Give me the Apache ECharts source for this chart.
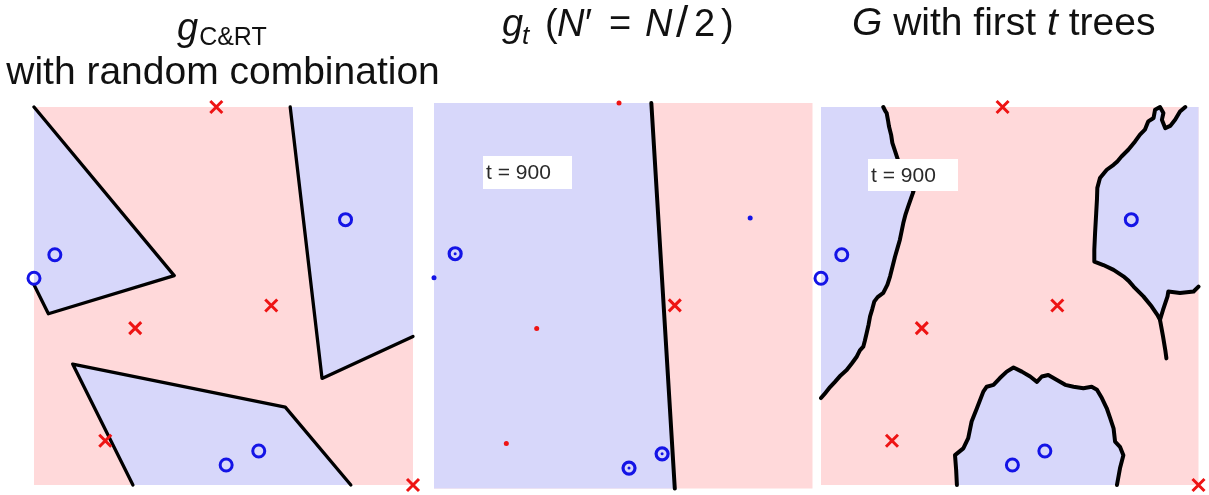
<!DOCTYPE html>
<html>
<head>
<meta charset="utf-8">
<script src="https://cdn.jsdelivr.net/npm/echarts@6/dist/echarts.min.js"></script>
<style>
  html, body { margin: 0; padding: 0; background: #ffffff; }
  #chart { width: 1209px; height: 495px; }
</style>
</head>
<body>
<div id="chart"></div>
<script>
// ---- training points, unit-square coordinates (shared by all three panels) ----
const crossPts  = [[0.481, 1.000], [0.267, 0.415], [0.626, 0.475], [0.188, 0.117], [1.000, 0.000]]; // class +1
const circlePts = [[0.000, 0.547], [0.055, 0.609], [0.822, 0.702], [0.507, 0.053], [0.593, 0.090]]; // class -1

// how each point is drawn in the single bootstrapped tree (middle panel)
const crossKindTree  = ['dot', 'dot', 'cross', 'dot', 'none'];
const circleKindTree = ['dot', 'ring', 'dot', 'ring', 'ring'];

// ---- left panel: C&RT combination, three blue regions bounded by straight cuts ----
const cartRegionA = [[0.000, 1.000], [0.370, 0.554], [0.038, 0.453], [0.000, 0.530]];
const cartRegionB = [[0.676, 1.000], [0.760, 0.282], [1.000, 0.393]];
const cartRegionC = [[0.261, 0.000], [0.102, 0.320], [0.663, 0.206], [0.836, 0.000]];

// ---- middle panel: one tree, one cut ----
const treeCut = [[0.565, 1.000], [0.626, 0.000]];

// ---- right panel: forest of the first t trees ----
const forestLeft = [
  [0.165, 1.000], [0.170, 0.990], [0.174, 0.984], [0.178, 0.962], [0.180, 0.949], [0.186, 0.925],
  [0.189, 0.905], [0.196, 0.884], [0.201, 0.869], [0.214, 0.830], [0.231, 0.794], [0.245, 0.777],
  [0.238, 0.757], [0.231, 0.737], [0.224, 0.716], [0.218, 0.693], [0.209, 0.649], [0.203, 0.628],
  [0.196, 0.604], [0.190, 0.580], [0.183, 0.552], [0.176, 0.530], [0.165, 0.508], [0.150, 0.497],
  [0.141, 0.485], [0.136, 0.466], [0.130, 0.446], [0.126, 0.424], [0.121, 0.402], [0.116, 0.381],
  [0.112, 0.366], [0.103, 0.356], [0.095, 0.340], [0.082, 0.322], [0.068, 0.304], [0.052, 0.290],
  [0.037, 0.273], [0.024, 0.259], [0.011, 0.243], [0.000, 0.230]
];
const forestRight = [
  [0.965, 1.000], [0.951, 0.988], [0.938, 0.966], [0.925, 0.950], [0.912, 0.944], [0.903, 0.966],
  [0.907, 0.984], [0.898, 1.000], [0.885, 0.993], [0.881, 0.971], [0.867, 0.962], [0.858, 0.940],
  [0.845, 0.927], [0.832, 0.909], [0.814, 0.887], [0.796, 0.869], [0.785, 0.856], [0.775, 0.847],
  [0.757, 0.834], [0.739, 0.812], [0.732, 0.786], [0.731, 0.755], [0.729, 0.719], [0.726, 0.666],
  [0.724, 0.622], [0.724, 0.591], [0.748, 0.582], [0.775, 0.569], [0.801, 0.552], [0.815, 0.540],
  [0.828, 0.525], [0.854, 0.499], [0.876, 0.472], [0.891, 0.450], [0.898, 0.437], [0.906, 0.463],
  [0.918, 0.499], [0.920, 0.512], [0.951, 0.508], [0.987, 0.512], [1.000, 0.525]
];
const forestSpur = [[0.898, 0.437], [0.906, 0.393], [0.912, 0.357], [0.915, 0.335]];
const forestBottom = [
  [0.360, 0.000], [0.358, 0.040], [0.355, 0.079], [0.377, 0.097], [0.390, 0.124], [0.399, 0.168],
  [0.413, 0.203], [0.430, 0.247], [0.439, 0.260], [0.457, 0.265], [0.474, 0.283], [0.492, 0.300],
  [0.510, 0.311], [0.532, 0.300], [0.554, 0.287], [0.572, 0.273], [0.585, 0.287], [0.602, 0.291],
  [0.625, 0.278], [0.647, 0.265], [0.669, 0.260], [0.695, 0.256], [0.717, 0.260], [0.731, 0.252],
  [0.744, 0.230], [0.757, 0.203], [0.766, 0.177], [0.775, 0.150], [0.779, 0.115], [0.792, 0.101],
  [0.801, 0.079], [0.792, 0.044], [0.784, 0.000]
];

const iterationLabel = 't = 900';

// ---- styles ----
const PINK = '#FFD9DA';
const LAVENDER = '#D7D7FA';
const RED = '#EE1414';
const BLUE = '#1414E6';
const FONT = '"Liberation Sans", Arial, Helvetica, sans-serif';
const CROSS = 'path://M0,0L10,10M10,0L0,10';

// close a boundary polyline against the square's edges to get a filled region
const regionA = cartRegionA.slice();
const regionB = cartRegionB.concat([[1, 1]]);
const regionC = cartRegionC.slice();
const treeRegion = [[0, 0], [0, 1]].concat(treeCut);
const forestRegL = forestLeft.concat([[0, 1]]);
const forestRegR = forestRight.concat([[1, 1]]);
const forestRegB = forestBottom.slice();

const chart = echarts.init(document.getElementById('chart'));

function regions(idx, polys) {
  return {
    type: 'custom', xAxisIndex: idx, yAxisIndex: idx, silent: true, animation: false, z: 1,
    data: polys.map((_, i) => [i]),
    renderItem: (params, api) => ({
      type: 'polygon',
      shape: { points: polys[params.dataIndex].map(p => api.coord(p)) },
      style: { fill: LAVENDER }
    })
  };
}
function boundary(idx, pts, width) {
  return {
    type: 'line', xAxisIndex: idx, yAxisIndex: idx, data: pts, showSymbol: false, symbol: 'none',
    silent: true, animation: false, clip: false, z: 2,
    lineStyle: { color: '#000', width: width, join: 'round', cap: 'round' }
  };
}
function crosses(idx, pts, size) {
  return {
    type: 'scatter', xAxisIndex: idx, yAxisIndex: idx, data: pts, symbol: CROSS, symbolSize: size,
    silent: true, animation: false, clip: false, z: 3,
    itemStyle: { color: 'none', borderColor: RED, borderWidth: 3, opacity: 1 }
  };
}
function rings(idx, pts, size, width) {
  return {
    type: 'scatter', xAxisIndex: idx, yAxisIndex: idx, data: pts, symbol: 'circle', symbolSize: size,
    silent: true, animation: false, clip: false, z: 3,
    itemStyle: { color: 'rgba(0,0,0,0)', borderColor: BLUE, borderWidth: width, opacity: 1 }
  };
}
function dots(idx, pts, size, color) {
  return {
    type: 'scatter', xAxisIndex: idx, yAxisIndex: idx, data: pts, symbol: 'circle', symbolSize: size,
    silent: true, animation: false, clip: false, z: 4,
    itemStyle: { color: color, opacity: 1 }
  };
}
const pick = (pts, kinds, k) => pts.filter((_, i) => kinds[i] === k);

// ---- titles, laid out piece by piece (math italics and subscripts) ----
const measure = document.createElement('canvas').getContext('2d');
function fontOf(size, it) { return (it ? 'italic ' : '') + size + 'px ' + FONT; }
function textEl(t, x, baseline, size, it, align) {
  return {
    type: 'text', x: x, y: baseline - 0.347 * size, silent: true, z: 50,
    style: { text: t, font: fontOf(size, it), fill: '#111', align: align || 'left', verticalAlign: 'middle' }
  };
}
function row(pieces, x, baseline) {
  const out = [];
  pieces.forEach(p => {
    x += p.gap || 0;
    out.push(textEl(p.t, x, baseline + (p.dy || 0), p.size || 39, p.it));
    measure.font = fontOf(p.size || 39, p.it);
    x += measure.measureText(p.t).width;
  });
  return out;
}
function labelBox(x, y, w, h) {
  return [
    { type: 'rect', z: 60, silent: true, shape: { x: x, y: y, width: w, height: h }, style: { fill: '#ffffff' } },
    { type: 'text', z: 61, silent: true, x: x + 3, y: y + h / 2 + 1,
      style: { text: iterationLabel, font: '21px ' + FONT, fill: '#2a2a2a', align: 'left', verticalAlign: 'middle' } }
  ];
}

const titles = []
  .concat(row([{ t: 'g', it: true, size: 38 }, { t: 'C&RT', size: 25, dy: 4, gap: 1 }], 177, 43))
  .concat([textEl('with random combination', 223, 87, 39, false, 'center')])
  .concat([
    textEl('g', 502, 39, 38, true),
    textEl('t', 522, 46, 26, true),
    textEl('(', 545, 39, 38, false),
    textEl('N', 557, 39, 38, true),
    textEl('\u2032', 585, 39, 38, false),
    textEl('=', 609, 39, 38, false),
    textEl('N', 645, 39, 38, true),
    textEl('/', 676, 40, 44, false),
    textEl('2', 694, 39, 38, false),
    textEl(')', 721, 39, 38, false)
  ])
  .concat(row([{ t: 'G', it: true }, { t: ' with first ' }, { t: 't', it: true }, { t: ' trees' }], 852, 38));

const grids = [
  { left: 34, top: 107, width: 379, height: 378 },
  { left: 434, top: 103, width: 378.5, height: 385.5 },
  { left: 821, top: 107, width: 377.5, height: 378 }
].map(g => Object.assign({ show: true, backgroundColor: PINK, borderWidth: 0, containLabel: false }, g));

const axis = (i, max) => ({ type: 'value', gridIndex: i, min: 0, max: max, show: false });

chart.setOption({
  animation: false,
  backgroundColor: '#ffffff',
  grid: grids,
  xAxis: [axis(0, 1), axis(1, 0.984), axis(2, 1)],
  yAxis: [axis(0, 1), axis(1, 1), axis(2, 1)],
  series: [
    // left panel
    regions(0, [regionA, regionB, regionC]),
    boundary(0, cartRegionA, 3.3),
    boundary(0, cartRegionB, 3.3),
    boundary(0, cartRegionC, 3.3),
    crosses(0, crossPts, 12),
    rings(0, circlePts, 12, 3),
    // middle panel
    regions(1, [treeRegion]),
    boundary(1, treeCut, 4),
    dots(1, pick(crossPts, crossKindTree, 'dot'), 5, RED),
    dots(1, pick(circlePts, circleKindTree, 'dot'), 5, BLUE),
    crosses(1, pick(crossPts, crossKindTree, 'cross'), 12),
    rings(1, pick(circlePts, circleKindTree, 'ring'), 12, 3.2),
    dots(1, pick(circlePts, circleKindTree, 'ring'), 3, BLUE),
    // right panel
    regions(2, [forestRegL, forestRegR, forestRegB]),
    boundary(2, forestLeft, 4),
    boundary(2, forestRight, 4),
    boundary(2, forestSpur, 4),
    boundary(2, forestBottom, 4),
    crosses(2, crossPts, 12),
    rings(2, circlePts, 12, 3)
  ],
  graphic: { elements: titles.concat(labelBox(483, 156, 89, 33), labelBox(868, 159, 90, 32)) }
});
</script>
</body>
</html>
